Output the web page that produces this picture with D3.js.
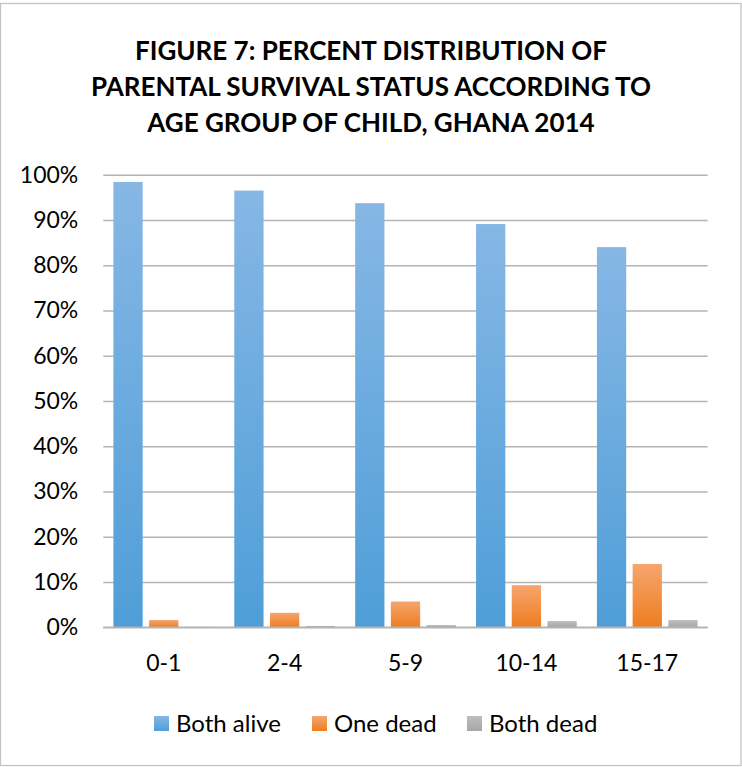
<!DOCTYPE html>
<html>
<head>
<meta charset="utf-8">
<script src="https://cdn.jsdelivr.net/npm/d3@7"></script>
<style>
  html, body { margin: 0; padding: 0; background: #ffffff; }
  svg { display: block; }
  text { font-family: Lato, "Open Sans", sans-serif; fill: #000; }
</style>
</head>
<body>
<div id="chart"></div>
<script>
// Age groups of the child
const categories = ["0-1", "2-4", "5-9", "10-14", "15-17"];
// Parental survival status (series)
const seriesNames = ["Both alive", "One dead", "Both dead"];
// Percent of children in each status, per age group
const bothAlive = [98.4, 96.5, 93.7, 89.1, 84.0];
const oneDead   = [1.6, 3.2, 5.7, 9.3, 14.0];
const bothDead  = [0.1, 0.3, 0.5, 1.4, 1.6];
// Y axis ticks
const yTicks = [0, 10, 20, 30, 40, 50, 60, 70, 80, 90, 100];
const titleLines = [
  "FIGURE 7: PERCENT DISTRIBUTION OF",
  "PARENTAL SURVIVAL STATUS ACCORDING TO",
  "AGE GROUP OF CHILD, GHANA 2014"
];

const seriesValues = [bothAlive, oneDead, bothDead];
const colors = [
  { top: "#86b7e5", bottom: "#4f9ed8" },
  { top: "#f6a56f", bottom: "#ee7d1f" },
  { top: "#bfbfbf", bottom: "#a6a6a6" }
];

const W = 742, H = 767;
const plot = { left: 103.3, right: 707.7, top: 174.7, bottom: 627.3 };

const svg = d3.select("#chart").append("svg")
  .attr("width", W).attr("height", H);

// gradients, one per series
const defs = svg.append("defs");
colors.forEach((c, i) => {
  const g = defs.append("linearGradient")
    .attr("id", "grad" + i)
    .attr("x1", 0).attr("y1", 0).attr("x2", 0).attr("y2", 1);
  g.append("stop").attr("offset", "0%").attr("stop-color", c.top);
  g.append("stop").attr("offset", "100%").attr("stop-color", c.bottom);
});

// chart frame
svg.append("rect")
  .attr("x", 0.5).attr("y", 3.5)
  .attr("width", W - 1.5).attr("height", H - 5)
  .attr("fill", "#fff").attr("stroke", "#c4c4c4").attr("stroke-width", 1.3);

// title
const title = svg.append("text")
  .attr("text-anchor", "middle")
  .style("font-weight", "bold")
  .style("font-size", "26px");
titleLines.forEach((t, i) => {
  title.append("tspan").attr("x", W / 2).attr("y", 60 + i * 36).text(t);
});

const x0 = d3.scaleBand().domain(categories)
  .range([plot.left, plot.right]).paddingInner(0).paddingOuter(0);
const x1 = d3.scaleBand().domain(seriesNames)
  .range([0, x0.bandwidth()]).paddingInner(0.18).paddingOuter(0.283);
const y = d3.scaleLinear().domain([0, 100]).range([plot.bottom, plot.top]);

// gridlines + y labels
const yAxis = d3.axisLeft(y)
  .tickValues(yTicks)
  .tickSize(-(plot.right - plot.left))
  .tickPadding(25)
  .tickFormat(d => d + "%");
const gy = svg.append("g")
  .attr("transform", `translate(${plot.left},0)`)
  .call(yAxis);
gy.select(".domain").remove();
gy.selectAll(".tick line").attr("stroke", "#b4b4b4").attr("stroke-width", 1.5);
gy.selectAll(".tick text")
  .attr("fill", "#000")
  .style("font-size", "23px")
  .style("font-family", "Lato, 'Open Sans', sans-serif");

// bars
const groups = svg.append("g").selectAll("g")
  .data(categories)
  .join("g")
  .attr("transform", d => `translate(${x0(d)},0)`);

groups.selectAll("rect")
  .data((d, ci) => seriesNames.map((s, si) => ({ s, si, v: seriesValues[si][ci] })))
  .join("rect")
  .attr("x", d => x1(d.s))
  .attr("width", x1.bandwidth())
  .attr("y", d => y(d.v))
  .attr("height", d => y(0) - y(d.v))
  .attr("fill", d => `url(#grad${d.si})`);

// baseline redrawn over bars
svg.append("line")
  .attr("x1", plot.left).attr("x2", plot.right)
  .attr("y1", y(0)).attr("y2", y(0))
  .attr("stroke", "#b4b4b4").attr("stroke-width", 1.5);

// x category labels
const xAxis = d3.axisBottom(x0).tickSize(0).tickPadding(27);
const gx = svg.append("g")
  .attr("transform", `translate(0,${plot.bottom})`)
  .call(xAxis);
gx.select(".domain").remove();
gx.selectAll(".tick text")
  .attr("fill", "#000")
  .style("font-size", "23px")
  .style("font-family", "Lato, 'Open Sans', sans-serif");

// legend
const legendX = [154, 312, 467];
const legend = svg.append("g").selectAll("g")
  .data(seriesNames)
  .join("g")
  .attr("transform", (d, i) => `translate(${legendX[i]},716)`);
legend.append("rect")
  .attr("width", 15).attr("height", 15)
  .attr("fill", (d, i) => `url(#grad${i})`);
legend.append("text")
  .attr("x", 22).attr("y", 16)
  .style("font-size", "24px")
  .text(d => d);
</script>
</body>
</html>
